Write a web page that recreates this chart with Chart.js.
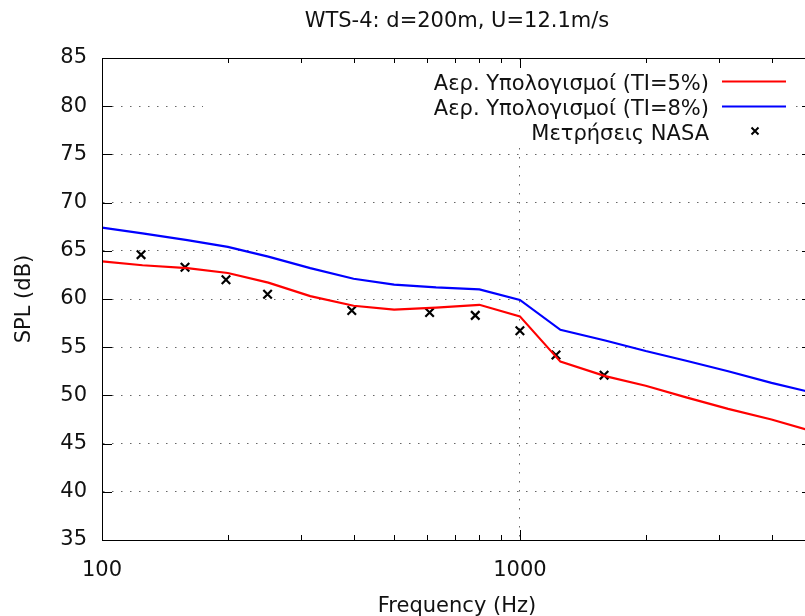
<!DOCTYPE html>
<html><head><meta charset="utf-8">
<script src="https://cdn.jsdelivr.net/npm/chart.js@4.4.0/dist/chart.umd.min.js"></script>
<style>
html,body{margin:0;padding:0;overflow:hidden;background:#fff;width:805px;height:616px}
#wrap{position:absolute;left:0;top:0;width:830px;height:616px}
</style>
</head><body><div id="wrap"><canvas id="c" width="830" height="616"></canvas></div>
<script>
const chartTitle = 'WTS-4: d=200m, U=12.1m/s';
const xTitle = 'Frequency (Hz)';
const yTitle = 'SPL (dB)';
const seriesNames = ['Αερ. Υπολογισμοί (TI=5%)', 'Αερ. Υπολογισμοί (TI=8%)', 'Μετρήσεις NASA'];

const frequencies = [100,125,160,200,250,315,400,500,630,800,1000,1250,1600,2000,2500,3150,4000,5000];
const splTI5 = [63.9,63.5,63.2,62.7,61.7,60.3,59.3,58.9,59.1,59.4,58.2,53.5,52.0,51.0,49.8,48.6,47.5,46.3];
const splTI8 = [67.4,66.8,66.1,65.4,64.4,63.2,62.1,61.5,61.2,61.0,59.9,56.8,55.7,54.6,53.6,52.5,51.3,50.3];

const nasaFreq = [124,158,198,249,396,608,782,1000,1220,1590];
const nasaSPL = [64.6,63.3,62.0,60.5,58.8,58.6,58.3,56.7,54.2,52.1];

const xTickValues = [100,200,300,400,500,600,700,800,900,1000,2000,3000,4000,5000];
const xMajorTicks = [100,1000];
const yTickValues = [35,40,45,50,55,60,65,70,75,80,85];

const FONT = {family: 'DejaVu Sans', size: 21};
const TEXT = '#111111';
const GRID = '#666666';

const deco = {
  id: 'deco',
  afterDatasetsDraw(chart) {
    const {ctx, chartArea: a, scales: {x, y}} = chart;
    ctx.save();
    // legend box (opaque)
    ctx.fillStyle = '#fff';
    ctx.fillRect(203, 66, a.right - 17 - 203, 77);
    // legend entries
    ctx.font = '21px "DejaVu Sans"';
    ctx.fillStyle = TEXT;
    ctx.textAlign = 'right';
    ctx.textBaseline = 'alphabetic';
    const tx = a.right - 103, s0 = a.right - 90, s1 = a.right - 26;
    const rows = [89.5, 114.5, 139.5];
    const cols = ['#ff0000', '#0000ff'];
    seriesNames.forEach((n, i) => {
      ctx.fillText(n, tx, rows[i]);
    });
    for (let i = 0; i < 2; i++) {
      ctx.strokeStyle = cols[i]; ctx.lineWidth = 2;
      ctx.beginPath(); ctx.moveTo(s0, rows[i] - 8); ctx.lineTo(s1, rows[i] - 8); ctx.stroke();
    }
    const mx = (s0 + s1) / 2 + 1, my = rows[2] - 8.5, r = 3.5;
    ctx.strokeStyle = '#000'; ctx.lineWidth = 2;
    ctx.beginPath();
    ctx.moveTo(mx - r, my - r); ctx.lineTo(mx + r, my + r);
    ctx.moveTo(mx - r, my + r); ctx.lineTo(mx + r, my - r);
    ctx.stroke();

    // inward tick marks
    ctx.strokeStyle = '#000'; ctx.lineWidth = 1;
    ctx.beginPath();
    yTickValues.forEach(v => {
      const py = Math.round(y.getPixelForValue(v)) + 0.5;
      ctx.moveTo(a.left, py); ctx.lineTo(a.left + 10, py);
      ctx.moveTo(a.right, py); ctx.lineTo(a.right - 10, py);
    });
    xTickValues.forEach(v => {
      const px = Math.round(x.getPixelForValue(v)) + 0.5;
      const L = xMajorTicks.includes(v) ? 10 : 5;
      ctx.moveTo(px, a.bottom); ctx.lineTo(px, a.bottom - L);
      ctx.moveTo(px, a.top); ctx.lineTo(px, a.top + L);
    });
    ctx.stroke();
    // frame
    ctx.strokeRect(Math.round(a.left) + 0.5, Math.round(a.top) + 0.5, Math.round(a.right - a.left), Math.round(a.bottom - a.top));
    // title
    ctx.textAlign = 'center';
    ctx.textBaseline = 'alphabetic';
    ctx.fillStyle = TEXT;
    ctx.fillText(chartTitle, (a.left + a.right) / 2, 27);
    ctx.restore();
  }
};

new Chart(document.getElementById('c'), {
  type: 'line',
  data: {
    datasets: [
      {label: seriesNames[0], data: frequencies.map((f, i) => ({x: f, y: splTI5[i]})),
       borderColor: '#ff0000', borderWidth: 2.2, pointRadius: 0, tension: 0, fill: false},
      {label: seriesNames[1], data: frequencies.map((f, i) => ({x: f, y: splTI8[i]})),
       borderColor: '#0000ff', borderWidth: 2.2, pointRadius: 0, tension: 0, fill: false},
      {label: seriesNames[2], data: nasaFreq.map((f, i) => ({x: f, y: nasaSPL[i]})),
       showLine: false, pointStyle: 'crossRot', pointRadius: 6, pointBorderWidth: 2.2,
       borderColor: '#000', backgroundColor: '#000'}
    ]
  },
  options: {
    responsive: false, animation: false, devicePixelRatio: 1,
    layout: {padding: {left: 0, top: 58, right: 16, bottom: 0}},
    plugins: {legend: {display: false}, title: {display: false}, tooltip: {enabled: false}},
    scales: {
      x: {
        type: 'logarithmic', min: 100, max: 5000,
        afterBuildTicks: s => { s.ticks = xTickValues.map(v => ({value: v})); },
        afterFit: s => { s.height = 76; },
        ticks: {autoSkip: false, maxRotation: 0, padding: 18, font: FONT, color: TEXT,
                callback: v => xMajorTicks.includes(v) ? String(v) : ''},
        grid: {drawTicks: false, lineWidth: 1,
               color: c => (c.tick && xMajorTicks.includes(c.tick.value)) ? GRID : 'rgba(0,0,0,0)'},
        border: {display: true, color: '#000', width: 1, dash: [1.5, 7.5]},
        title: {display: true, text: xTitle, font: FONT, color: TEXT, padding: {top: 0, bottom: -3}}
      },
      y: {
        type: 'linear', min: 35, max: 85,
        afterBuildTicks: s => { s.ticks = yTickValues.map(v => ({value: v})); },
        afterFit: s => { s.width = 102; },
        ticks: {padding: 15, font: FONT, color: TEXT},
        grid: {drawTicks: false, lineWidth: 1, color: GRID},
        border: {display: true, color: '#000', width: 1, dash: [1.5, 7.5]},
        title: {display: true, text: yTitle, font: FONT, color: TEXT, padding: {top: 12, bottom: 0}}
      }
    }
  },
  plugins: [deco]
});
</script>
</body></html>
